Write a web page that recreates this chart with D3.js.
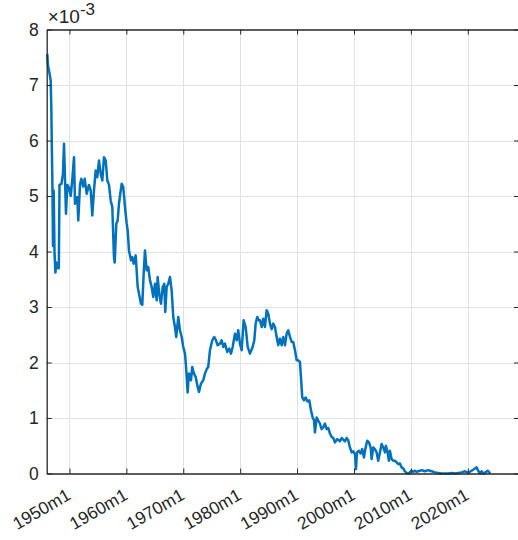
<!DOCTYPE html>
<html>
<head>
<meta charset="utf-8">
<script src="https://cdn.jsdelivr.net/npm/d3@7"></script>
<style>
  html, body { margin: 0; padding: 0; background: #fff; }
  svg { display: block; }
  text { font-family: "Liberation Sans", Arial, Helvetica, sans-serif; fill: #262626; }
</style>
</head>
<body>
<svg id="chart" width="518" height="540"></svg>
<script>
// Monthly series, sampled: decimal year and value (in units of 1e-3)
const years = [
  1946.10, 1946.23, 1946.46, 1946.70, 1946.81, 1946.93, 1947.00, 1947.11, 1947.23, 1947.37,
  1947.53, 1947.69, 1947.81, 1947.99, 1948.13, 1948.25, 1948.60, 1948.86, 1949.04, 1949.22,
  1949.39, 1949.62, 1949.92, 1950.22, 1950.50, 1950.80, 1950.97, 1951.38, 1951.55, 1951.85,
  1952.08, 1952.43, 1952.68, 1953.03, 1953.43, 1953.73, 1954.01, 1954.31, 1954.61, 1954.89,
  1955.19, 1955.49, 1955.77, 1956.07, 1956.37, 1956.65, 1956.95, 1957.24, 1957.53, 1957.82,
  1957.95, 1958.23, 1958.47, 1958.70, 1958.88, 1959.18, 1959.46, 1959.76, 1960.06, 1960.23,
  1960.46, 1960.81, 1961.04, 1961.29, 1961.64, 1961.99, 1962.22, 1962.57, 1962.80, 1963.04,
  1963.27, 1963.57, 1963.85, 1964.15, 1964.45, 1964.73, 1965.03, 1965.33, 1965.50, 1965.78,
  1966.08, 1966.38, 1966.66, 1966.84, 1967.08, 1967.37, 1967.66, 1967.96, 1968.24, 1968.54,
  1968.77, 1969.12, 1969.42, 1969.72, 1970.00, 1970.30, 1970.47, 1970.77, 1971.00, 1971.35,
  1971.58, 1971.88, 1972.18, 1972.53, 1972.76, 1973.11, 1973.51, 1973.81, 1974.16, 1974.39,
  1974.69, 1975.10, 1975.45, 1975.75, 1976.04, 1976.45, 1976.75, 1977.03, 1977.33, 1977.73,
  1978.08, 1978.38, 1978.68, 1979.08, 1979.38, 1979.66, 1979.96, 1980.26, 1980.61, 1980.96,
  1981.32, 1981.72, 1982.19, 1982.48, 1982.72, 1983.00, 1983.30, 1983.48, 1983.78, 1984.06,
  1984.36, 1984.65, 1984.94, 1985.23, 1985.53, 1985.81, 1986.11, 1986.41, 1986.69, 1986.99,
  1987.29, 1987.57, 1987.87, 1988.17, 1988.45, 1988.75, 1989.05, 1989.33, 1989.63, 1989.93,
  1990.21, 1990.50, 1990.68, 1990.91, 1991.21, 1991.51, 1991.79, 1992.14, 1992.44, 1992.74,
  1992.97, 1993.14, 1993.44, 1993.72, 1994.02, 1994.32, 1994.60, 1994.90, 1995.20, 1995.48,
  1995.78, 1996.07, 1996.36, 1996.65, 1997.06, 1997.53, 1997.83, 1998.11, 1998.41, 1998.71,
  1998.99, 1999.29, 1999.59, 1999.87, 2000.17, 2000.35, 2000.52, 2000.87, 2001.17, 2001.45,
  2001.75, 2002.05, 2002.33, 2002.63, 2002.93, 2003.10, 2003.38, 2003.68, 2003.98, 2004.26,
  2004.56, 2004.86, 2005.14, 2005.44, 2005.61, 2005.91, 2006.14, 2006.31, 2006.61, 2006.90,
  2007.20, 2007.50, 2007.78, 2008.08, 2008.37, 2008.66, 2008.95, 2009.25, 2009.54, 2009.83,
  2010.13, 2010.41, 2010.71, 2011.01, 2011.29, 2011.59, 2011.89, 2012.17, 2012.47, 2012.77,
  2013.05, 2013.35, 2013.65, 2014.23, 2014.81, 2015.40, 2015.98, 2016.56, 2017.16, 2017.74,
  2018.32, 2018.92, 2019.50, 2020.08, 2020.37, 2020.67, 2021.13, 2021.55, 2021.83, 2022.13,
  2022.43, 2022.71, 2023.13, 2023.48, 2023.71, 2023.94
];
const rate = [
  7.56, 7.35, 7.23, 7.08, 6.60, 5.70, 5.22, 4.10, 5.10, 4.00,
  3.62, 3.80, 3.70, 3.78, 3.70, 5.20, 5.22, 5.40, 5.94, 5.30,
  4.68, 5.20, 5.15, 5.00, 5.30, 5.70, 4.86, 4.98, 4.56, 5.20,
  5.31, 5.17, 5.31, 5.04, 5.20, 5.10, 4.65, 5.10, 5.46, 5.34,
  5.64, 5.40, 5.28, 5.70, 5.64, 5.28, 5.20, 4.92, 4.80, 3.90,
  3.80, 4.50, 4.56, 4.86, 5.00, 5.22, 5.16, 4.80, 4.50, 4.38,
  4.02, 3.84, 3.90, 3.78, 3.93, 3.36, 3.24, 3.06, 3.04, 3.60,
  4.02, 3.66, 3.72, 3.48, 3.36, 3.18, 3.42, 3.12, 3.54, 3.24,
  3.06, 3.36, 3.42, 2.91, 3.36, 3.42, 3.54, 3.30, 2.82, 2.64,
  2.46, 2.82, 2.58, 2.46, 2.28, 2.16, 1.95, 1.46, 1.80, 1.68,
  1.92, 1.80, 1.74, 1.56, 1.47, 1.62, 1.68, 1.80, 1.89, 1.92,
  2.22, 2.40, 2.46, 2.40, 2.31, 2.34, 2.40, 2.28, 2.34, 2.19,
  2.25, 2.16, 2.28, 2.52, 2.40, 2.58, 2.34, 2.22, 2.76, 2.64,
  2.28, 2.16, 2.28, 2.40, 2.70, 2.82, 2.76, 2.76, 2.64, 2.79,
  2.64, 2.94, 2.88, 2.70, 2.60, 2.70, 2.64, 2.46, 2.31, 2.43,
  2.31, 2.46, 2.31, 2.52, 2.58, 2.46, 2.37, 2.37, 2.22, 2.04,
  2.04, 2.01, 1.74, 1.37, 1.32, 1.37, 1.30, 1.32, 1.14, 1.01,
  0.96, 0.74, 1.01, 0.95, 0.90, 0.80, 0.83, 0.90, 0.80, 0.82,
  0.72, 0.66, 0.64, 0.56, 0.62, 0.58, 0.64, 0.61, 0.58, 0.64,
  0.60, 0.47, 0.38, 0.40, 0.35, 0.08, 0.38, 0.41, 0.36, 0.44,
  0.29, 0.47, 0.59, 0.56, 0.47, 0.26, 0.47, 0.44, 0.38, 0.23,
  0.38, 0.53, 0.47, 0.38, 0.50, 0.38, 0.23, 0.41, 0.26, 0.23,
  0.23, 0.20, 0.17, 0.18, 0.11, 0.09, 0.04, 0.01, 0.00, 0.02,
  0.05, 0.03, 0.05, 0.03, 0.04, 0.05, 0.06, 0.05, 0.04, 0.05,
  0.06, 0.05, 0.04, 0.02, 0.01, 0.00, 0.00, 0.00, 0.01, 0.00,
  0.01, 0.02, 0.04, 0.01, 0.03, 0.05, 0.08, 0.11, 0.05, 0.00,
  0.04, 0.00, 0.02, 0.05, 0.03, 0.00
];

// Axis ticks
const xTickYears = [1950, 1960, 1970, 1980, 1990, 2000, 2010, 2020];
const xTickLabels = ["1950m1", "1960m1", "1970m1", "1980m1", "1990m1", "2000m1", "2010m1", "2020m1"];
const yTicks = [0, 1, 2, 3, 4, 5, 6, 7, 8];
const yExponent = "-3";

const svg = d3.select("#chart");
const plotLeft = 46.7, plotRight = 519, plotTop = 29.5, plotBottom = 473.5;

const x = d3.scaleLinear().domain([1946, 2029]).range([plotLeft, plotRight]);
const y = d3.scaleLinear().domain([0, 8]).range([plotBottom, plotTop]);

const axisColor = "#262626";
const gridColor = "#e1e1e1";
const labelSize = 17.5;

// Grid
const grid = svg.append("g");
grid.selectAll("line.gx").data(xTickYears).join("line")
  .attr("x1", d => Math.round(x(d)) + 0.5).attr("x2", d => Math.round(x(d)) + 0.5)
  .attr("y1", plotTop).attr("y2", plotBottom)
  .attr("stroke", gridColor).attr("stroke-width", 1);
grid.selectAll("line.gy").data(yTicks.filter(d => d > 0 && d < 8)).join("line")
  .attr("x1", plotLeft).attr("x2", plotRight)
  .attr("y1", d => Math.round(y(d)) + 0.5).attr("y2", d => Math.round(y(d)) + 0.5)
  .attr("stroke", gridColor).attr("stroke-width", 1);

// Series line
const line = d3.line()
  .x((d, i) => x(years[i]))
  .y(d => y(d));
svg.append("path")
  .datum(rate)
  .attr("d", line)
  .attr("fill", "none")
  .attr("stroke", "#0072BD")
  .attr("stroke-width", 2.5)
  .attr("stroke-linejoin", "round");

// Axes with inward ticks
const xAxis = d3.axisBottom(x).tickValues(xTickYears).tickSize(-5).tickSizeOuter(0)
  .tickFormat((d, i) => xTickLabels[i]);
const gx = svg.append("g").attr("transform", `translate(0,${plotBottom})`).call(xAxis);
gx.select(".domain").attr("stroke", axisColor).attr("stroke-width", 1.3);
gx.selectAll(".tick line").attr("stroke", axisColor);
gx.selectAll(".tick text")
  .attr("font-size", labelSize)
  .attr("fill", axisColor)
  .attr("text-anchor", "end")
  .attr("dy", null)
  .attr("y", 0)
  .attr("transform", "translate(2,25) rotate(-30)");

const gxTop = svg.append("g").attr("transform", `translate(0,${plotTop})`)
  .call(d3.axisTop(x).tickValues(xTickYears).tickSize(-5).tickSizeOuter(0).tickFormat(""));
gxTop.select(".domain").attr("stroke", axisColor).attr("stroke-width", 1.3);
gxTop.selectAll(".tick line").attr("stroke", axisColor);

const yAxis = d3.axisLeft(y).tickValues(yTicks).tickSize(-5).tickSizeOuter(0).tickPadding(8);
const gy = svg.append("g").attr("transform", `translate(${plotLeft},0)`).call(yAxis);
gy.select(".domain").attr("stroke", axisColor).attr("stroke-width", 1.3);
gy.selectAll(".tick line").attr("stroke", axisColor);
gy.selectAll(".tick text").attr("font-size", labelSize).attr("fill", axisColor);

const gyR = svg.append("g").attr("transform", `translate(${plotRight},0)`)
  .call(d3.axisRight(y).tickValues(yTicks).tickSize(-5).tickSizeOuter(0).tickFormat(""));
gyR.select(".domain").attr("stroke", axisColor);
gyR.selectAll(".tick line").attr("stroke", axisColor);

// Exponent label
const ex = svg.append("text").attr("x", plotLeft + 1).attr("y", 23).attr("font-size", 19).attr("fill", axisColor);
ex.append("tspan").text("\u00d710");
ex.append("tspan").attr("dy", -8).attr("font-size", 17).text(yExponent);
</script>
</body>
</html>
